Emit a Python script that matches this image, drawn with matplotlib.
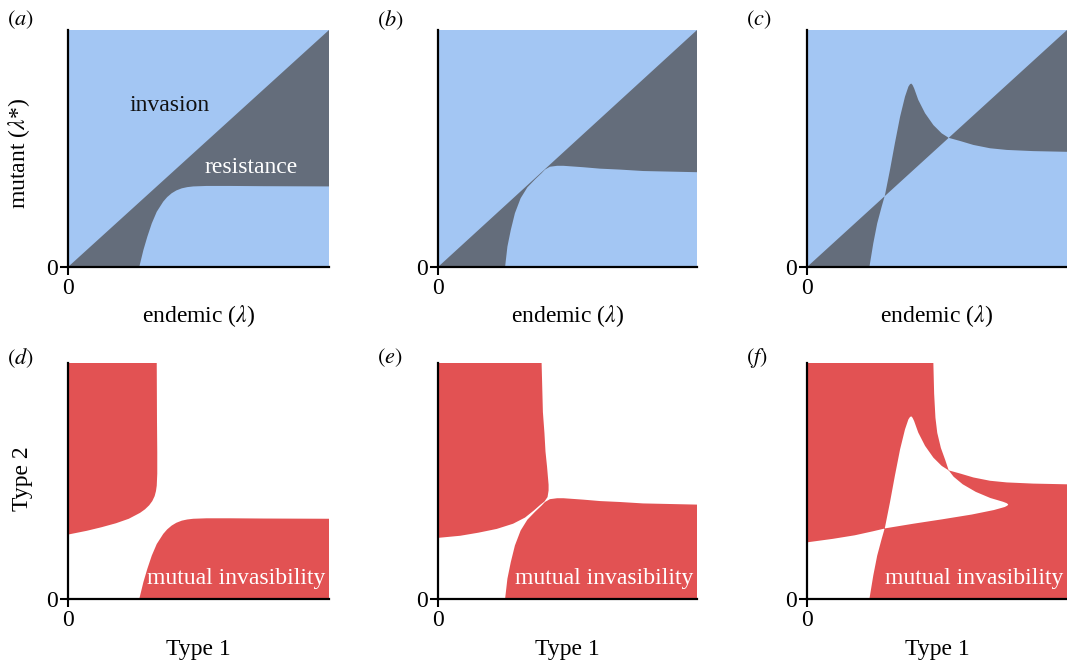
import numpy as np
import matplotlib
matplotlib.use("Agg")
import matplotlib.pyplot as plt
from matplotlib.path import Path
from matplotlib.patches import PathPatch

# ---------- Data: boundary curves (axes units 0..1) ----------
# (a)
CURVE_A_X = [0.273, 0.289, 0.304, 0.321, 0.340, 0.365, 0.380, 0.397, 0.415,
             0.436, 0.457, 0.480, 0.531, 0.621, 0.750, 1.000]
CURVE_A_Y = [0.000, 0.072, 0.128, 0.184, 0.233, 0.276, 0.295, 0.311, 0.323,
             0.332, 0.337, 0.340, 0.342, 0.342, 0.341, 0.340]
# (b)
CURVE_B_X = [0.259, 0.268, 0.281, 0.297, 0.319, 0.345, 0.375, 0.400, 0.413,
             0.432, 0.460, 0.484, 0.561, 0.625, 0.703, 0.792, 1.000]
CURVE_B_Y = [0.000, 0.086, 0.156, 0.227, 0.290, 0.336, 0.370, 0.396, 0.411,
             0.423, 0.427, 0.427, 0.421, 0.415, 0.411, 0.405, 0.400]
# (c)
CURVE_C_X = [0.240, 0.255, 0.270, 0.287, 0.300, 0.319, 0.338, 0.358, 0.377,
             0.390, 0.396, 0.401, 0.406, 0.412, 0.428, 0.454, 0.486, 0.518,
             0.545, 0.588, 0.640, 0.704, 0.768, 0.870, 1.000]
CURVE_C_Y = [0.000, 0.100, 0.184, 0.254, 0.304, 0.409, 0.522, 0.634, 0.719,
             0.761, 0.771, 0.774, 0.768, 0.754, 0.705, 0.649, 0.599, 0.564,
             0.545, 0.532, 0.515, 0.501, 0.494, 0.489, 0.486]

CURVES = [(CURVE_A_X, CURVE_A_Y), (CURVE_B_X, CURVE_B_Y), (CURVE_C_X, CURVE_C_Y)]
TOP_LETTERS = ["a", "b", "c"]
BOTTOM_LETTERS = ["d", "e", "f"]

BLUE = "#a3c6f3"
GREY = "#646d7b"
RED = "#e25253"

plt.rcParams["font.family"] = ["Liberation Serif", "DejaVu Serif"]
plt.rcParams["mathtext.fontset"] = "stix"
FS = 17

W, H = 1067, 666
fig = plt.figure(figsize=(W / 100, H / 100), dpi=100)

# axes boxes in pixels: left, right, top, bottom
COLS = [(68, 329), (438, 697), (807, 1067)]
ROWS = [(30, 267), (363, 599)]


def make_ax(col, row):
    l, r = COLS[col]
    t, b = ROWS[row]
    ax = fig.add_axes([l / W, 1 - b / H, (r - l) / W, (b - t) / H])
    ax.set_xlim(0, 1)
    ax.set_ylim(0, 1)
    for s in ["top", "right"]:
        ax.spines[s].set_visible(False)
    for s in ["left", "bottom"]:
        ax.spines[s].set_linewidth(1.6)
        ax.spines[s].set_zorder(5)
    ax.set_xticks([0])
    ax.set_yticks([0])
    ax.set_xticklabels(["0"])
    ax.set_yticklabels(["0"])
    ax.tick_params(length=6, width=1.5, labelsize=FS)
    ax.tick_params(axis="x", pad=2)
    ax.tick_params(axis="y", pad=1)
    return ax


def dark_polygon(cx, cy):
    # region between the boundary curve and the diagonal, closed along y = x
    xs = [0.0] + list(cx) + [1.0]
    ys = [0.0] + list(cy) + [1.0]
    return np.array(xs), np.array(ys)


def closed_path(xs, ys):
    v = np.column_stack([xs, ys])
    v = np.vstack([v, v[:1]])
    return Path(v, closed=True)


for i, (cx, cy) in enumerate(CURVES):
    # ---------- top row: pairwise invasibility ----------
    ax = make_ax(i, 0)
    ax.set_facecolor(BLUE)
    xs, ys = dark_polygon(cx, cy)
    ax.fill(xs, ys, color=GREY, lw=0)
    ax.text(0.5, -0.232, r"endemic ($\lambda$)", transform=ax.transAxes,
            ha="center", va="baseline", fontsize=FS)
    l, r = COLS[i]
    fig.text((l - 61) / W, 1 - 20 / H, rf"$({TOP_LETTERS[i]})$", fontsize=16,
             ha="left", va="center")
    if i == 0:
        ax.text(0.39, 0.68, "invasion", transform=ax.transAxes, ha="center",
                va="center", fontsize=FS, color="#111111")
        ax.text(0.70, 0.42, "resistance", transform=ax.transAxes, ha="center",
                va="center", fontsize=FS, color="white")
        ax.text(-0.188, 0.48, r"mutant ($\lambda$*)", transform=ax.transAxes,
                ha="center", va="center", rotation=90, fontsize=FS)

    # ---------- bottom row: mutual invasibility ----------
    ax = make_ax(i, 1)
    ax.set_facecolor(RED)
    # non-invasible where either (x, y) or its mirror (y, x) lies in the dark region;
    # mirror is traversed backwards so both pieces share orientation (no seam)
    both = Path.make_compound_path(closed_path(xs, ys),
                                   closed_path(ys[::-1], xs[::-1]))
    ax.add_patch(PathPatch(both, facecolor="white", lw=0))
    ax.text(0.985, 0.085, "mutual invasibility", transform=ax.transAxes,
            ha="right", va="center", fontsize=FS, color="white")
    ax.text(0.5, -0.237, "Type 1", transform=ax.transAxes,
            ha="center", va="baseline", fontsize=FS)
    fig.text((l - 61) / W, 1 - 358 / H, rf"$({BOTTOM_LETTERS[i]})$", fontsize=16,
             ha="left", va="center")
    if i == 0:
        ax.text(-0.176, 0.51, "Type 2", transform=ax.transAxes,
                ha="center", va="center", rotation=90, fontsize=FS)

fig.savefig("out.png", dpi=100)
